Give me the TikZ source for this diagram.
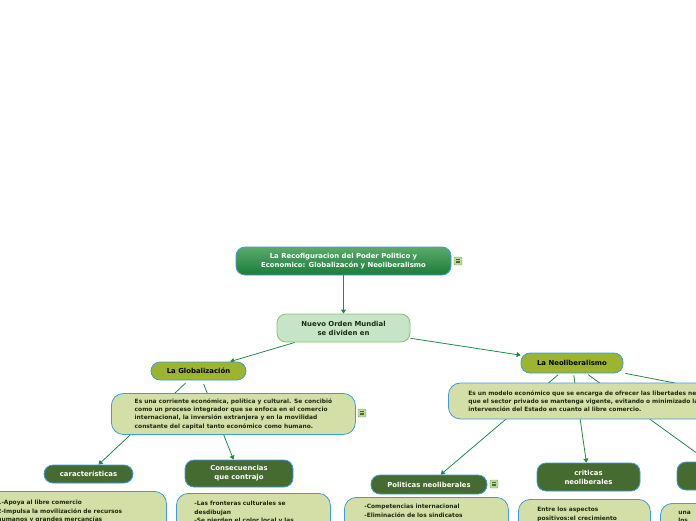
\documentclass[tikz,border=0pt]{standalone}
\usepackage{fontspec}
\setmainfont{DejaVu Sans}
\usetikzlibrary{arrows.meta}
\definecolor{conector}{HTML}{23874A}
\definecolor{borde}{HTML}{3E9BDD}
\definecolor{raizalta}{HTML}{5BAA6B}
\definecolor{raizbaja}{HTML}{1A7C38}
\definecolor{ordenfill}{HTML}{C6E5C8}
\definecolor{ordenborde}{HTML}{86C46E}
\definecolor{olivo}{HTML}{9CB52F}
\definecolor{verdeosc}{HTML}{466B31}
\definecolor{notafill}{HTML}{D4DFA8}
\definecolor{notatexto}{HTML}{1D2A10}
\definecolor{iconofill}{HTML}{BCD89A}
\pgfdeclarelayer{fondo}
\pgfsetlayers{fondo,main}
\tikzset{
  caja/.style={rounded corners=9pt, line width=0.8pt, align=center, inner sep=2pt,
    font=\fontsize{6.9}{9}\selectfont\bfseries},
  raiz/.style={caja, draw=borde, top color=raizalta, bottom color=raizbaja, text=white},
  orden/.style={caja, draw=ordenborde, fill=ordenfill, text=notatexto},
  tema/.style={caja, draw=borde, fill=olivo, text=black},
  sub/.style={caja, draw=borde, fill=verdeosc, text=white},
  nota/.style={rounded corners=12pt, line width=0.8pt, draw=borde, fill=notafill,
    text=notatexto, align=left, anchor=north west,
    font=\fontsize{5.9}{8.2}\selectfont\bfseries},
  corte/.style={text depth=26pt},
  conex/.style={draw=conector, line width=0.8pt, -{Triangle[length=4pt,width=5pt]}},
  icono/.style={draw=verdeosc!70, fill=iconofill, line width=0.4pt, minimum size=8pt,
    inner sep=0pt, rounded corners=0.8pt,
    path picture={\foreach \d in {-1.7,0,1.7}
      \draw[verdeosc, line width=0.6pt] ([xshift=-2pt,yshift=\d pt]path picture bounding box.center) -- ++(4pt,0);}}
}
\begin{document}
\begin{tikzpicture}[x=1pt,y=-1pt]
\useasboundingbox (0,0) rectangle (696,520);
\clip (0,0) rectangle (696,520);
% temas principales
\node[raiz, minimum width=215pt, minimum height=28pt] (raiz) at (343.5,261) {La Recofiguracion del Poder Politico y\\Economico: Globalizacón y Neoliberalismo};
\node[icono] (iconoraiz) at (458,261) {};
\node[orden, minimum width=133pt, minimum height=28pt] (orden) at (343.5,328) {Nuevo Orden Mundial\\se dividen en};
\node[tema, minimum width=95pt, minimum height=18pt] (glob) at (198.5,371) {La Globalización};
\node[tema, minimum width=102pt, minimum height=20pt] (neo) at (572,363) {La Neoliberalismo};
% notas de los temas
\node[nota, anchor=west, minimum width=244pt, minimum height=41pt, inner xsep=21pt] (notaglob) at (111,414) {Es una corriente económica, política y cultural. Se concibió\\como un proceso integrador que se enfoca en el comercio\\internacional, la inversión extranjera y en la movilidad\\constante del capital tanto económico como humano.};
\node[icono] (iconoglob) at (362,413) {};
\node[nota, anchor=west, minimum width=360pt, minimum height=36pt, inner xsep=20pt, text width=320pt] (notaneo) at (448,401) {Es un modelo económico que se encarga de ofrecer las libertades necesarias para\\que el sector privado se mantenga vigente, evitando o minimizado la\\intervención del Estado en cuanto al libre comercio.};
% subtemas
\node[sub, minimum width=89pt, minimum height=18pt] (carac) at (88.5,474) {características};
\node[sub, minimum width=108pt, minimum height=27pt] (consec) at (239,473.5) {Consecuencias\\que contrajo};
\node[sub, minimum width=116pt, minimum height=19pt] (politicas) at (429,484.5) {Politicas neoliberales};
\node[icono] (iconopol) at (494,484) {};
\node[sub, minimum width=103pt, minimum height=28pt] (criticas) at (588.5,477) {criticas\\neoliberales};
\node[sub, minimum width=103pt, minimum height=28pt] (tercero) at (728.5,476) {};
\coordinate (cuarto) at (900,427);
% notas de los subtemas
\node[nota, corte, inner xsep=22pt, inner ysep=9pt, text width=147pt] (notacarac) at (-25,491) {1-Apoya al libre comercio\\2-Impulsa la movilización de recursos\\humanos y grandes mercancías};
\node[nota, corte, inner xsep=18pt, inner ysep=8pt, text width=118pt] (notaconsec) at (176,493) {-Las fronteras culturales se\\desdibujan\\-Se pierden el color local y las};
\node[nota, corte, inner xsep=20pt, inner ysep=7pt, text width=124pt] (notapol) at (344,497) {-Competencias internacional\\-Eliminación de los sindicatos};
\node[nota, corte, inner xsep=19pt, inner ysep=8pt, text width=94pt] (notacrit) at (518,499) {Entre los aspectos\\positivos:el crecimiento};
\node[nota, corte, inner xsep=18pt, inner ysep=8pt, text width=64pt] (notatercero) at (660,503) {una\\los};
% conectores
\begin{pgfonlayer}{fondo}
\draw[conex] (raiz) -- (orden);
\draw[conex] (orden) -- (glob);
\draw[conex] (orden) -- (neo);
\draw[conex, shorten <=4pt] (glob) -- (carac);
\draw[conex, shorten <=4pt] (glob) -- (consec);
\draw[conex, shorten <=2pt] (neo) -- (politicas);
\draw[conex, shorten <=2pt] (neo) -- (criticas);
\draw[conex, shorten <=2pt] (neo) -- (tercero);
\draw[conex, shorten <=2pt] (neo) -- (cuarto);
\end{pgfonlayer}
\end{tikzpicture}
\end{document}
